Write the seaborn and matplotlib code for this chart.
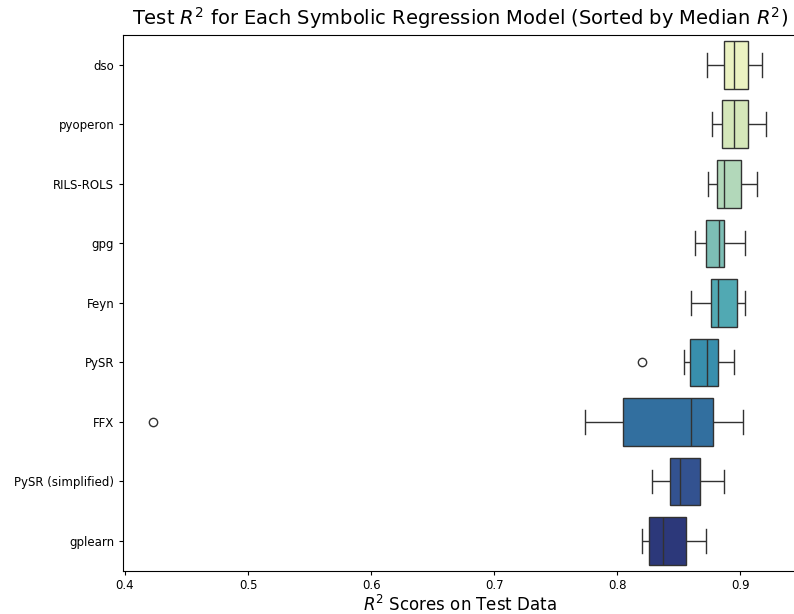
import numpy as np
import pandas as pd
import matplotlib
matplotlib.use("Agg")
import matplotlib.pyplot as plt
import seaborn as sns

# Models sorted by median R^2 (descending)
models = ["dso", "pyoperon", "RILS-ROLS", "gpg", "Feyn", "PySR", "FFX",
          "PySR (simplified)", "gplearn"]

# Test R^2 scores per model
dso = [0.873, 0.887, 0.895, 0.906, 0.918]
pyoperon = [0.877, 0.885, 0.895, 0.906, 0.921]
rils_rols = [0.874, 0.881, 0.887, 0.901, 0.914]
gpg = [0.863, 0.872, 0.883, 0.887, 0.904]
feyn = [0.860, 0.876, 0.882, 0.897, 0.904]
pysr = [0.820, 0.854, 0.859, 0.866, 0.873, 0.877, 0.882, 0.888, 0.895]
ffx = [0.423, 0.774, 0.805, 0.835, 0.860, 0.870, 0.878, 0.890, 0.902]
pysr_simplified = [0.828, 0.843, 0.851, 0.867, 0.887]
gplearn = [0.820, 0.826, 0.837, 0.856, 0.872]

series = [dso, pyoperon, rils_rols, gpg, feyn, pysr, ffx, pysr_simplified, gplearn]
rows = []
for m, vals in zip(models, series):
    for v in vals:
        rows.append({"Model": m, "R2": v})
df = pd.DataFrame(rows)

W, H = 794, 614
top_px, bot_px = 35.0, 570.7
fig = plt.figure(figsize=(W / 100, H / 100), dpi=100)
ax = fig.add_axes([122.7 / W, (H - bot_px) / H, 674 / W, (bot_px - top_px) / H])

sns.boxplot(data=df, x="R2", y="Model", hue="Model", order=models,
            hue_order=models, palette="YlGnBu", legend=False, ax=ax,
            width=0.8)

ax.set_title("Test $R^2$ for Each Symbolic Regression Model (Sorted by Median $R^2$)",
             fontsize=14, pad=7)
ax.set_xlabel("$R^2$ Scores on Test Data", fontsize=12, labelpad=2)
ax.set_ylabel("")
ax.tick_params(axis="both", labelsize=8.5, length=2.6, pad=3.5)

fig.savefig("out.png", dpi=100)
